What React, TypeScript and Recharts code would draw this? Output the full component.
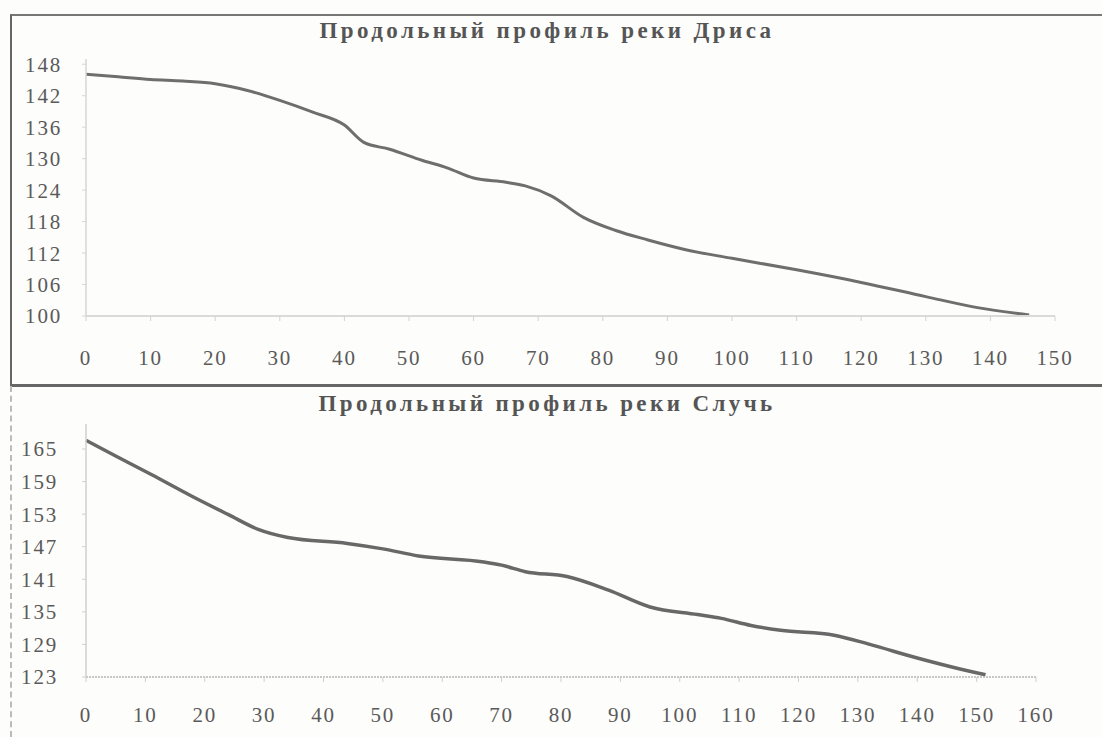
import React from 'react';
import { LineChart, Line, XAxis, YAxis } from 'recharts';

// Река Дриса: расстояние (км) и отметка (м)
const drisaDist = [0, 5, 10, 15, 20, 25, 30, 35, 40, 43, 47, 52, 56, 60, 65, 68, 72, 77, 82, 87, 93, 100, 110, 120, 130, 138, 146];
const drisaElev = [146.1, 145.6, 145.1, 144.8, 144.3, 143.0, 141.1, 138.9, 136.4, 133.1, 131.8, 129.7, 128.2, 126.3, 125.5, 124.8, 122.9, 118.8, 116.3, 114.5, 112.6, 111.0, 108.8, 106.4, 103.7, 101.6, 100.2];

// Река Случь
const sluchDist = [0, 5, 11, 18, 24, 29, 34, 44, 50, 56, 67, 70, 74, 81, 88, 95, 103, 107, 112, 117, 126, 132, 140, 146, 151.5];
const sluchElev = [166.6, 163.7, 160.3, 156.2, 152.9, 150.2, 148.7, 147.6, 146.6, 145.3, 144.2, 143.6, 142.4, 141.5, 139.0, 135.9, 134.5, 133.8, 132.5, 131.6, 130.7, 129.0, 126.5, 124.8, 123.4];

const drisaXTicks = [0, 10, 20, 30, 40, 50, 60, 70, 80, 90, 100, 110, 120, 130, 140, 150];
const drisaYTicks = [100, 106, 112, 118, 124, 130, 136, 142, 148];
const sluchXTicks = [0, 10, 20, 30, 40, 50, 60, 70, 80, 90, 100, 110, 120, 130, 140, 150, 160];
const sluchYTicks = [123, 129, 135, 141, 147, 153, 159, 165];

const drisaTitle = 'Продольный профиль реки Дриса';
const sluchTitle = 'Продольный профиль реки Случь';

const drisaData = drisaDist.map((d, i) => ({ d, h: drisaElev[i] }));
const sluchData = sluchDist.map((d, i) => ({ d, h: sluchElev[i] }));

const FONT = '"Liberation Serif", "DejaVu Serif", serif';
const tickStyle = { fill: '#5a5a5a', fontSize: 21, fontFamily: FONT, letterSpacing: 1.8 };
const titleStyle: React.CSSProperties = {
  position: 'absolute', left: 0, width: 1094, textAlign: 'center', fontFamily: FONT,
  fontWeight: 'bold', fontSize: 23, color: '#555', letterSpacing: 3.4, lineHeight: '26px',
};

export default function App() {
  return (
    <div style={{ position: 'absolute', left: 0, top: 0, width: 1102, height: 737, background: '#fdfdfb', overflow: 'hidden' }}>
      {/* top box border */}
      <div style={{ position: 'absolute', left: 10, top: 14, width: 1100, height: 368, borderLeft: '2px solid #666', borderTop: '2px solid #777', borderBottom: '3px solid #666' }} />
      {/* bottom box left border */}
      <div style={{ position: 'absolute', left: 10, top: 386, width: 0, height: 351, borderLeft: '2px dashed #bbb' }} />

      <div style={{ ...titleStyle, top: 18 }}>{drisaTitle}</div>
      <div style={{ ...titleStyle, top: 391 }}>{sluchTitle}</div>

      <div style={{ position: 'absolute', left: 0, top: 0 }}>
        <LineChart width={1102} height={383} data={drisaData} margin={{ top: 59, right: 47, bottom: 27, left: 26 }}>
          <XAxis
            dataKey="d"
            type="number"
            domain={[0, 150]}
            ticks={drisaXTicks}
            interval={0}
            height={40}
            tick={tickStyle}
            tickSize={5}
            tickMargin={29}
            axisLine={{ stroke: '#dadada', strokeWidth: 2 }}
            tickLine={{ stroke: '#d2d2d2' }}
          />
          <YAxis
            dataKey="h"
            type="number"
            domain={[100, 149]}
            ticks={drisaYTicks}
            interval={0}
            width={60}
            tick={tickStyle}
            tickSize={4}
            tickMargin={20}
            axisLine={{ stroke: '#d6d6d6', strokeWidth: 1.5 }}
            tickLine={{ stroke: '#d6d6d6' }}
          />
          <Line type="monotone" dataKey="h" stroke="#6e6e6e" strokeWidth={3} dot={false} isAnimationActive={false} />
        </LineChart>
      </div>

      <div style={{ position: 'absolute', left: 0, top: 383 }}>
        <LineChart width={1102} height={354} data={sluchData} margin={{ top: 41, right: 66, bottom: 20, left: 26 }}>
          <XAxis
            dataKey="d"
            type="number"
            domain={[0, 160]}
            ticks={sluchXTicks}
            interval={0}
            height={40}
            tick={tickStyle}
            tickSize={5}
            tickMargin={25}
            axisLine={{ stroke: '#b5b5b5', strokeWidth: 1.5, strokeDasharray: '2 1' }}
            tickLine={{ stroke: '#cfcfcf' }}
          />
          <YAxis
            dataKey="h"
            type="number"
            domain={[123, 169.6]}
            ticks={sluchYTicks}
            interval={0}
            width={60}
            tick={tickStyle}
            tickSize={4}
            tickMargin={24}
            axisLine={{ stroke: '#cfcfcf', strokeWidth: 1.5 }}
            tickLine={{ stroke: '#cfcfcf' }}
          />
          <Line type="monotone" dataKey="h" stroke="#686868" strokeWidth={3.5} dot={false} isAnimationActive={false} />
        </LineChart>
      </div>
    </div>
  );
}
